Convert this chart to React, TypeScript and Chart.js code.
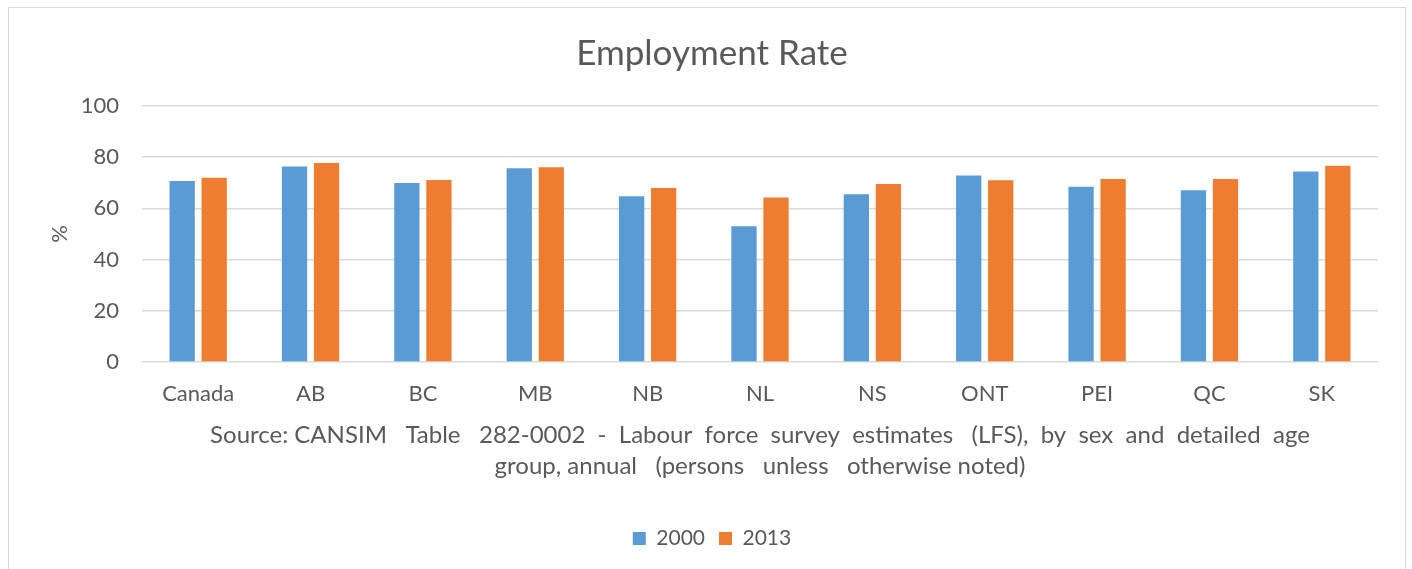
import React, { useEffect, useRef } from "react";
import { Chart, registerables } from "chart.js";

Chart.register(...registerables);

const categories = ["Canada", "AB", "BC", "MB", "NB", "NL", "NS", "ONT", "PEI", "QC", "SK"];
const series2000 = [70.7, 76.4, 69.9, 75.7, 64.7, 53.0, 65.5, 72.9, 68.5, 67.1, 74.4];
const series2013 = [72.0, 77.7, 71.1, 76.1, 68.0, 64.3, 69.5, 71.0, 71.5, 71.5, 76.7];
const yTicks = [0, 20, 40, 60, 80, 100];
const titleText = "Employment Rate";
const yTitle = "%";
const sourceLines = [
  "Source: CANSIM   Table   282-0002  -  Labour  force  survey  estimates   (LFS),  by  sex  and  detailed  age",
  "group, annual   (persons   unless   otherwise noted)",
];

const FONT = "Lato, 'Open Sans', sans-serif";
const TEXT = "#595959";

export default function App() {
  const ref = useRef<HTMLCanvasElement | null>(null);
  useEffect(() => {
    if (!ref.current) return;
    const chart = new Chart(ref.current, {
      type: "bar",
      data: {
        labels: categories,
        datasets: [
          { label: "2000", data: series2000, backgroundColor: "#5b9bd5", barPercentage: 0.79, categoryPercentage: 0.57 },
          { label: "2013", data: series2013, backgroundColor: "#ed7d31", barPercentage: 0.79, categoryPercentage: 0.57 },
        ],
      },
      options: {
        animation: false,
        responsive: false,
        maintainAspectRatio: false,
        layout: { padding: { left: 46, right: 34, top: 0, bottom: 10 } },
        plugins: {
          title: {
            display: true,
            text: titleText,
            color: TEXT,
            font: { family: FONT, size: 35, weight: "normal", lineHeight: 1.2 },
            padding: { top: 33, bottom: 31 },
          },
          legend: {
            position: "bottom",
            labels: {
              color: TEXT,
              font: { family: FONT, size: 21 },
              boxWidth: 13,
              boxHeight: 13,
              padding: 14,
            },
          },
          tooltip: { enabled: false },
        },
        scales: {
          x: {
            grid: { display: false, drawTicks: false },
            border: { display: false },
            ticks: { color: TEXT, font: { family: FONT, size: 22 }, padding: 19 },
            title: {
              display: true,
              text: sourceLines,
              color: TEXT,
              font: { family: FONT, size: 24, lineHeight: 1.29 },
              padding: { top: 0, bottom: 32 },
            },
            afterFit: (scale: any) => {
              scale.height = 152;
            },
          },
          y: {
            min: 0,
            max: 100,
            afterBuildTicks: (axis: any) => {
              axis.ticks = yTicks.map((v) => ({ value: v }));
            },
            grid: { color: "#d9d9d9", lineWidth: 1.5, drawTicks: false },
            border: { display: false },
            ticks: { color: TEXT, font: { family: FONT, size: 22 }, padding: 23 },
            title: {
              display: true,
              text: yTitle,
              color: TEXT,
              font: { family: FONT, size: 22, lineHeight: 1.2 },
              padding: { top: 1, bottom: 0 },
            },
            afterFit: (scale: any) => {
              scale.width = 96;
            },
          },
        },
      },
    });
    return () => chart.destroy();
  }, []);

  return (
    <div style={{ position: "fixed", left: 0, top: 0, width: 1412, height: 569, background: "#fff" }}>
      <div
        style={{
          position: "absolute",
          left: 8,
          top: 7,
          width: 1398,
          height: 600,
          border: "1.5px solid #d9d9d9",
          boxSizing: "border-box",
        }}
      />
      <canvas ref={ref} width={1412} height={569} style={{ position: "absolute", left: 0, top: 0 }} />
    </div>
  );
}
